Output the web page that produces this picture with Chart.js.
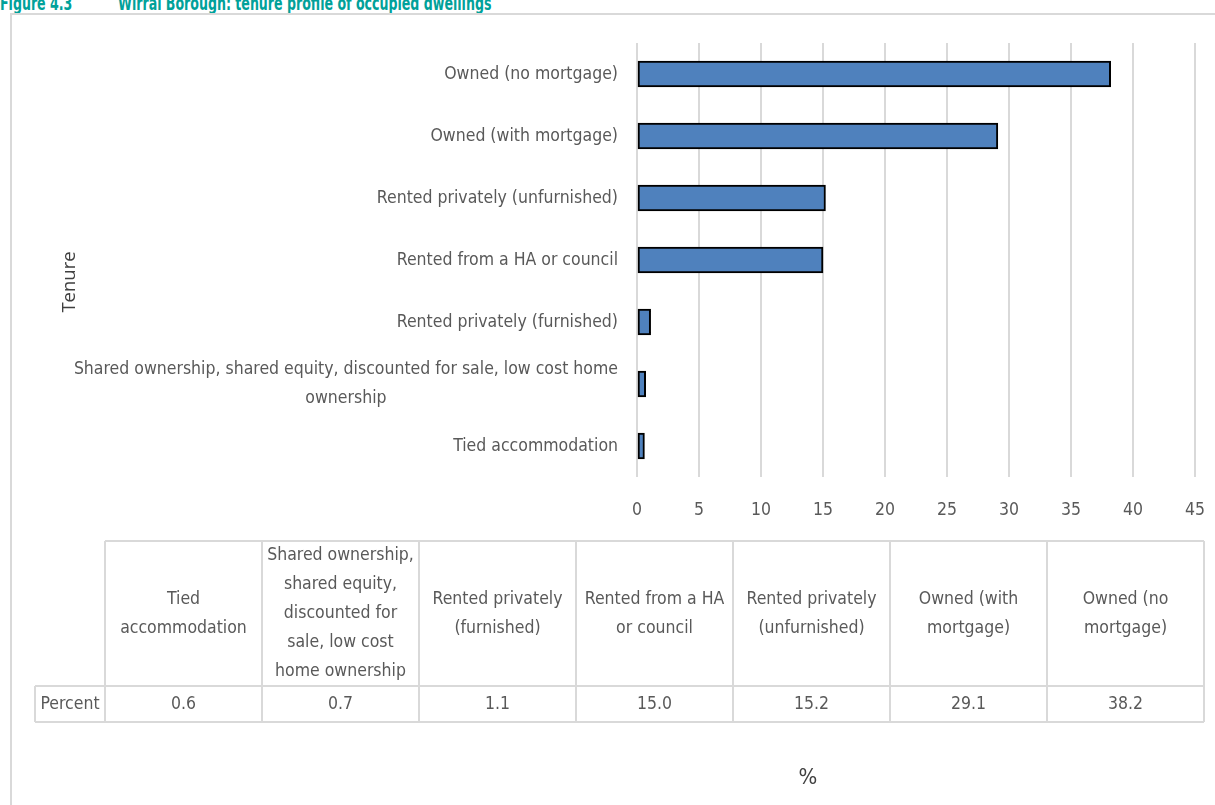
<!DOCTYPE html>
<html>
<head>
<meta charset="utf-8">
<title>Wirral Borough: tenure profile of occupied dwellings</title>
<script src="https://cdn.jsdelivr.net/npm/chart.js@4.4.1/dist/chart.umd.min.js"></script>
<style>
    html, body { margin: 0; padding: 0; background: #fff; overflow: hidden; }
    body { width: 1215px; height: 805px; position: relative; }
    .fig-title {
        position: absolute; top: -7px;
        font: bold 20px 'DejaVu Sans Condensed', 'Liberation Sans Narrow', sans-serif;
        line-height: 20px; color: #00a19a; white-space: nowrap;
        transform: scaleX(0.7); transform-origin: left top;
    }
    .chart-frame {
        position: absolute; left: 10px; top: 13px; width: 1230px; height: 820px;
        border: 2px solid #d9d9d9; box-sizing: border-box;
    }
    #tenureChart { position: absolute; left: 0; top: 0; }
</style>
</head>
<body>
<div class="fig-title" style="left:0">Figure 4.3</div>
<div class="fig-title" style="left:118px">Wirral Borough: tenure profile of occupied dwellings</div>
<div class="chart-frame"></div>
<canvas id="tenureChart" width="1215" height="805"></canvas>

<script>
// Tenure categories, bottom bar first (same order as the data table)
const categories = [
    'Tied accommodation',
    ['Shared ownership, shared equity, discounted for sale, low cost home', 'ownership'],
    'Rented privately (furnished)',
    'Rented from a HA or council',
    'Rented privately (unfurnished)',
    'Owned (with mortgage)',
    'Owned (no mortgage)'
];

// Column headings of the data table under the chart
const tableHeaders = [
    ['Tied', 'accommodation'],
    ['Shared ownership,', 'shared equity,', 'discounted for', 'sale, low cost', 'home ownership'],
    ['Rented privately', '(furnished)'],
    ['Rented from a HA', 'or council'],
    ['Rented privately', '(unfurnished)'],
    ['Owned (with', 'mortgage)'],
    ['Owned (no', 'mortgage)']
];

const seriesName = 'Percent';
const percentValues = [0.6, 0.7, 1.1, 15.0, 15.2, 29.1, 38.2];

// x axis: 0 to 45 in steps of 5
const xMin = 0;
const xMax = 45;
const xStep = 5;

const labelFont = "'DejaVu Sans Condensed', 'Liberation Sans Narrow', sans-serif";
const textGrey = '#595959';
const lineGrey = '#d9d9d9';

// Draws the category labels (centred multi-line like the office chart),
// the axis titles and the data table
const tenureExtras = {
    id: 'tenureExtras',
    afterDraw(chart) {
        const ctx = chart.ctx;
        const yScale = chart.scales.y;
        const area = chart.chartArea;
        const lineH = 29;

        ctx.save();
        ctx.fillStyle = textGrey;
        ctx.font = '17.5px ' + labelFont;
        ctx.textAlign = 'center';
        ctx.textBaseline = 'middle';

        // category labels left of the bars
        categories.forEach(function(label, i) {
            const lines = Array.isArray(label) ? label : [label];
            const y = yScale.getPixelForTick(i);
            const widest = Math.max(...lines.map(l => ctx.measureText(l).width));
            const cx = area.left - 19 - widest / 2;
            lines.forEach(function(line, j) {
                ctx.fillText(line, cx, y + (j - (lines.length - 1) / 2) * lineH);
            });
        });

        // data table
        const tLeft = 105, tRight = 1204, rowLabelLeft = 35;
        const headTop = 541, headBottom = 686, valBottom = 722;
        const colW = (tRight - tLeft) / tableHeaders.length;

        ctx.strokeStyle = lineGrey;
        ctx.lineWidth = 2;
        ctx.beginPath();
        ctx.moveTo(tLeft, headTop); ctx.lineTo(tRight, headTop);
        ctx.moveTo(rowLabelLeft, headBottom); ctx.lineTo(tRight, headBottom);
        ctx.moveTo(rowLabelLeft, valBottom); ctx.lineTo(tRight, valBottom);
        ctx.moveTo(rowLabelLeft, headBottom); ctx.lineTo(rowLabelLeft, valBottom);
        for (let c = 0; c <= tableHeaders.length; c++) {
            const x = tLeft + c * colW;
            ctx.moveTo(x, headTop); ctx.lineTo(x, valBottom);
        }
        ctx.stroke();

        const headMid = (headTop + headBottom) / 2;
        const valMid = (headBottom + valBottom) / 2;
        tableHeaders.forEach(function(lines, c) {
            const cx = tLeft + (c + 0.5) * colW;
            lines.forEach(function(line, j) {
                ctx.fillText(line, cx, headMid + (j - (lines.length - 1) / 2) * lineH);
            });
            ctx.fillText(percentValues[c].toFixed(1), cx, valMid);
        });
        ctx.fillText(seriesName, (rowLabelLeft + tLeft) / 2, valMid);

        // axis titles
        ctx.fillStyle = '#404040';
        ctx.font = '22px ' + labelFont;
        ctx.fillText('%', 808, 778);

        ctx.font = "18.5px 'Open Sans', sans-serif";
        ctx.translate(70, 282);
        ctx.rotate(-Math.PI / 2);
        ctx.fillText('Tenure', 0, 0);
        ctx.restore();
    }
};

const chartCanvas = document.getElementById('tenureChart');
const tenureChart = new Chart(chartCanvas, {
    type: 'bar',
    data: {
        labels: categories,
        datasets: [{
            label: seriesName,
            data: percentValues,
            backgroundColor: '#4f81bd',
            borderColor: '#000000',
            borderWidth: 2,
            borderSkipped: false,
            barThickness: 26
        }]
    },
    options: {
        indexAxis: 'y',
        responsive: false,
        animation: false,
        layout: {
            padding: { left: 0, right: 20, top: 43, bottom: 0 }
        },
        plugins: {
            legend: { display: false },
            tooltip: { enabled: false }
        },
        scales: {
            x: {
                min: xMin,
                max: xMax,
                ticks: {
                    stepSize: xStep,
                    padding: 0,
                    color: textGrey,
                    font: { family: labelFont, size: 17.5 }
                },
                // invisible tick marks keep the labels clear of the plot
                grid: { color: lineGrey, lineWidth: 2, drawTicks: true, tickLength: 23, tickColor: 'rgba(0,0,0,0)' },
                border: { display: false },
                afterFit: function(scale) { scale.height = 328; }
            },
            y: {
                reverse: true,
                ticks: { display: false },
                grid: { display: false, drawTicks: false },
                border: { display: false },
                afterFit: function(scale) { scale.width = 637; }
            }
        }
    },
    plugins: [tenureExtras]
});
</script>
</body>
</html>
